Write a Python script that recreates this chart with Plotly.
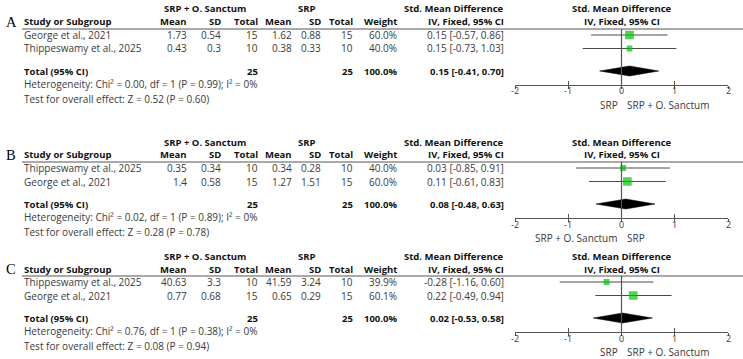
import plotly.graph_objects as go

W, H = 743, 359

# ---------------- data ----------------
panel_labels = ["A", "B", "C"]
exp_label = "SRP + O. Sanctum"
ctl_label = "SRP"

studies = [
    ["George et al., 2021", "Thippeswamy et al., 2025"],
    ["Thippeswamy et al., 2025", "George et al., 2021"],
    ["Thippeswamy et al., 2025", "George et al., 2021"],
]
exp_mean = [[1.73, 0.43], [0.35, 1.4], [40.63, 0.77]]
exp_sd = [[0.54, 0.3], [0.34, 0.58], [3.3, 0.68]]
exp_n = [[15, 10], [10, 15], [10, 15]]
ctl_mean = [[1.62, 0.38], [0.34, 1.27], [41.59, 0.65]]
ctl_sd = [[0.88, 0.33], [0.28, 1.51], [3.24, 0.29]]
ctl_n = [[15, 10], [10, 15], [10, 15]]
weights = [[60.0, 40.0], [40.0, 60.0], [39.9, 60.1]]
smd = [[0.15, 0.15], [0.03, 0.11], [-0.28, 0.22]]
ci_lo = [[-0.57, -0.73], [-0.85, -0.61], [-1.16, -0.49]]
ci_hi = [[0.86, 1.03], [0.91, 0.83], [0.60, 0.94]]
tot_exp_n = [25, 25, 25]
tot_ctl_n = [25, 25, 25]
tot_smd = [0.15, 0.08, 0.02]
tot_lo = [-0.41, -0.48, -0.53]
tot_hi = [0.70, 0.63, 0.58]
het_chi = ["0.00", "0.02", "0.76"]
het_p = ["0.99", "0.89", "0.38"]
z_val = ["0.52", "0.28", "0.08"]
z_p = ["0.60", "0.78", "0.94"]
favours = [("SRP", "SRP + O. Sanctum"),
           ("SRP + O. Sanctum", "SRP"),
           ("SRP", "SRP + O. Sanctum")]
tick_vals = [-2, -1, 0, 1, 2]
tick_text = ["-2", "-1", "0", "1", "2"]

# ---------------- layout constants (pixels) ----------------
BASES = [9, 142, 256]
FONT = "Open Sans"
FS = 10.0      # regular text
FSB = 9.5      # bold text
TXT = "#3a3a3a"
HDR = "#111111"
GREEN = "#00c800"
LINE = "#555555"

X_STUDY = 23
R_EXP_MEAN, R_EXP_SD, R_EXP_N = 188, 222, 259
R_CTL_MEAN, R_CTL_SD, R_CTL_N = 293, 322, 354
R_WEIGHT, R_SMD = 398, 505
C_EXP_HDR, C_CTL_HDR, C_SMD_HDR = 205, 307, 454
FOREST_L, FOREST_R = 515, 728


def px(y):
    return 1 - y / H


annotations = []
shapes = []


def txt(x, y, s, anchor="left", bold=False, size=None, color=TXT, family=FONT):
    if size is None:
        size = FSB if bold else FS
    annotations.append(dict(
        x=x / W, y=px(y), xref="paper", yref="paper",
        text=("<b>%s</b>" % s) if bold else s, showarrow=False,
        xanchor=anchor, yanchor="middle", borderpad=0,
        font=dict(family=family, size=size, color=color)))


def ax_id(n):
    return "" if n == 1 else str(n)


fig = go.Figure()
layout_axes = {}

for p in range(3):
    b = BASES[p]
    hdr1, hdr2 = b, b + 13
    line_y = b + 20
    rows = [b + 26, b + 39.5]
    tot_y = b + 62
    het_y, test_y = b + 75, b + 89.5
    axis_y = b + 75.5
    tick_lab_y = b + 82
    fav_y = b + 96

    # panel letter
    txt(5, b + 13, panel_labels[p], size=14.5, color="#000",
        family="Liberation Serif")

    # headers
    txt(C_EXP_HDR, hdr1, exp_label, "center", True, color=HDR)
    txt(C_CTL_HDR, hdr1, ctl_label, "center", True, color=HDR)
    txt(C_SMD_HDR, hdr1, "Std. Mean Difference", "center", True, color=HDR)
    txt((FOREST_L + FOREST_R) / 2, hdr1, "Std. Mean Difference", "center", True, color=HDR)
    txt(X_STUDY, hdr2, "Study or Subgroup", "left", True, color=HDR)
    for x, s in [(R_EXP_MEAN, "Mean"), (R_EXP_SD, "SD"), (R_EXP_N, "Total"),
                 (R_CTL_MEAN, "Mean"), (R_CTL_SD, "SD"), (R_CTL_N, "Total"),
                 (R_WEIGHT, "Weight"), (R_SMD, "IV, Fixed, 95% CI")]:
        txt(x, hdr2, s, "right", True, color=HDR)
    txt((FOREST_L + FOREST_R) / 2, hdr2, "IV, Fixed, 95% CI", "center", True, color=HDR)

    shapes.append(dict(type="line", xref="paper", yref="paper",
                       x0=22 / W, x1=1, y0=px(line_y), y1=px(line_y),
                       line=dict(color=LINE, width=1)))

    # study rows
    for j in range(2):
        y = rows[j]
        txt(X_STUDY, y, studies[p][j])
        txt(R_EXP_MEAN, y, str(exp_mean[p][j]), "right")
        txt(R_EXP_SD, y, str(exp_sd[p][j]), "right")
        txt(R_EXP_N, y, str(exp_n[p][j]), "right")
        txt(R_CTL_MEAN, y, str(ctl_mean[p][j]), "right")
        txt(R_CTL_SD, y, str(ctl_sd[p][j]), "right")
        txt(R_CTL_N, y, str(ctl_n[p][j]), "right")
        txt(R_WEIGHT, y, "%.1f%%" % weights[p][j], "right")
        txt(R_SMD, y, "%.2f [%.2f, %.2f]" % (smd[p][j], ci_lo[p][j], ci_hi[p][j]), "right")

    # total rows
    txt(X_STUDY, tot_y, "Total (95% CI)", "left", True, color=HDR)
    txt(R_EXP_N, tot_y, str(tot_exp_n[p]), "right", True, color=HDR)
    txt(R_CTL_N, tot_y, str(tot_ctl_n[p]), "right", True, color=HDR)
    txt(R_WEIGHT, tot_y, "%.1f%%" % sum(weights[p]), "right", True, color=HDR)
    txt(R_SMD, tot_y, "%.2f [%.2f, %.2f]" % (tot_smd[p], tot_lo[p], tot_hi[p]),
        "right", True, color=HDR)
    txt(X_STUDY, het_y,
        "Heterogeneity: Chi² = %s, df = 1 (P = %s); I² = 0%%" % (het_chi[p], het_p[p]))
    txt(X_STUDY, test_y,
        "Test for overall effect: Z = %s (P = %s)" % (z_val[p], z_p[p]))

    # forest axes
    k = p + 1
    xo = p + 4
    xa, ya = "x" + ax_id(k), "y" + ax_id(k)
    xoa = "x" + ax_id(xo)
    layout_axes["xaxis" + ax_id(k)] = dict(
        domain=[FOREST_L / W, FOREST_R / W], range=[-2, 2], anchor=ya,
        showline=True, linecolor=LINE, linewidth=1, ticks="outside",
        ticklen=3, tickwidth=1, tickcolor=LINE, tickvals=tick_vals,
        showticklabels=False,
        showgrid=False, zeroline=False, fixedrange=True)
    layout_axes["xaxis" + ax_id(xo)] = dict(
        domain=[FOREST_L / W, FOREST_R / W], range=[-2, 2], anchor=ya,
        overlaying=xa, ticks="inside", ticklen=4, tickwidth=1,
        tickcolor=LINE, tickvals=tick_vals, showticklabels=False,
        showline=False, showgrid=False, zeroline=False)
    layout_axes["yaxis" + ax_id(k)] = dict(
        domain=[px(axis_y), px(line_y)], range=[axis_y, line_y],
        visible=False, fixedrange=True)

    # tick labels placed on the axis scale
    for v, t in zip(tick_vals, tick_text):
        annotations.append(dict(x=v, y=px(tick_lab_y), xref=xa, yref="paper",
                                text=t, showarrow=False, xanchor="center",
                                yanchor="middle", borderpad=0,
                                font=dict(family=FONT, size=9, color=TXT)))

    # zero line
    shapes.append(dict(type="line", xref=xa, yref=ya + " domain",
                       x0=0, x1=0, y0=0, y1=1,
                       line=dict(color=LINE, width=1.2)))

    # CI whiskers
    for j in range(2):
        fig.add_trace(go.Scatter(
            x=[ci_lo[p][j], ci_hi[p][j]], y=[rows[j], rows[j]],
            mode="lines", line=dict(color="#4a4a4a", width=1),
            xaxis=xa, yaxis=ya, hoverinfo="skip"))
    # squares
    fig.add_trace(go.Scatter(
        x=smd[p], y=rows, mode="markers",
        marker=dict(symbol="square", color=GREEN,
                    size=[w * 0.145 for w in weights[p]], line=dict(width=0)),
        xaxis=xa, yaxis=ya))
    # diamond
    hd = 5
    fig.add_trace(go.Scatter(
        x=[tot_lo[p], tot_smd[p], tot_hi[p], tot_smd[p], tot_lo[p]],
        y=[tot_y, tot_y - hd, tot_y, tot_y + hd, tot_y],
        mode="lines", fill="toself", fillcolor="#000000",
        line=dict(color="#000000", width=0.5),
        xaxis=xa, yaxis=ya, hoverinfo="skip"))
    # invisible trace on overlay axis so its ticks are drawn
    fig.add_trace(go.Scatter(x=[0], y=[axis_y], mode="markers",
                             marker=dict(opacity=0), xaxis=xoa, yaxis=ya,
                             hoverinfo="skip"))

    # favours labels
    annotations.append(dict(x=0, y=px(fav_y), xref=xa, yref="paper",
                            text=favours[p][0], showarrow=False,
                            xanchor="right", yanchor="middle", xshift=-3,
                            borderpad=0,
                            font=dict(family=FONT, size=FS, color=TXT)))
    annotations.append(dict(x=0, y=px(fav_y), xref=xa, yref="paper",
                            text=favours[p][1], showarrow=False,
                            xanchor="left", yanchor="middle", xshift=4,
                            borderpad=0,
                            font=dict(family=FONT, size=FS, color=TXT)))

fig.update_layout(
    width=W, height=H, margin=dict(l=0, r=0, t=0, b=0),
    paper_bgcolor="white", plot_bgcolor="rgba(0,0,0,0)",
    showlegend=False, annotations=annotations, shapes=shapes,
    font=dict(family=FONT, size=FS, color=TXT),
    **layout_axes)

fig.write_html("out.html")
